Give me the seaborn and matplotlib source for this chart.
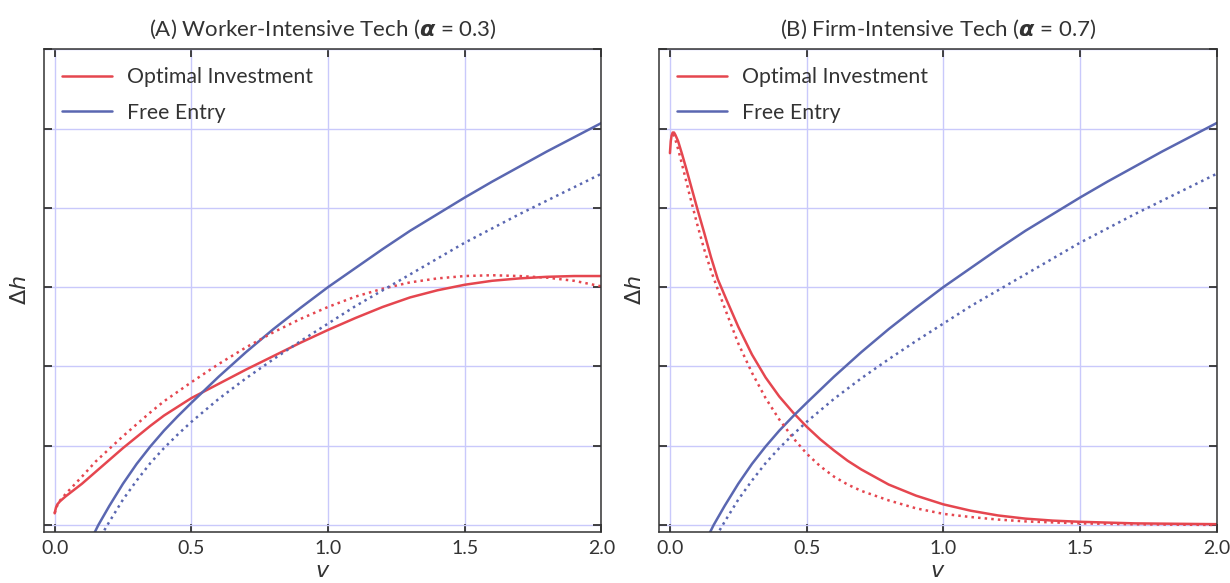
import numpy as np
import pandas as pd
import matplotlib
matplotlib.use("Agg")
import matplotlib.pyplot as plt
import seaborn as sns

# ---------------- data ----------------
# Free entry (same curves in both panels)
fe_solid_v = [0.13, 0.147, 0.16, 0.18, 0.2, 0.25, 0.3, 0.35, 0.4, 0.45, 0.5, 0.6, 0.7,
              0.8, 0.9, 1.0, 1.1, 1.2, 1.3, 1.4, 1.5, 1.6, 1.7, 1.8, 1.9, 2.0]
fe_solid_y = [-0.21, -0.09, 0.0, 0.12, 0.24, 0.52, 0.77, 0.99, 1.19, 1.37, 1.54, 1.87, 2.18,
              2.47, 2.74, 3.0, 3.24, 3.48, 3.71, 3.92, 4.13, 4.33, 4.52, 4.71, 4.89, 5.07]
fe_dot_v = [0.17, 0.183, 0.2, 0.25, 0.3, 0.35, 0.4, 0.45, 0.5, 0.6, 0.7, 0.8, 0.9,
            1.0, 1.1, 1.2, 1.3, 1.4, 1.5, 1.6, 1.7, 1.8, 1.9, 2.0]
fe_dot_y = [-0.14, -0.06, 0.04, 0.32, 0.56, 0.78, 0.97, 1.14, 1.30, 1.59, 1.85, 2.09, 2.32,
            2.54, 2.76, 2.96, 3.16, 3.36, 3.56, 3.74, 3.92, 4.09, 4.26, 4.43]

# Panel A: optimal investment (alpha = 0.3)
a_opt_solid_v = [0.0, 0.005, 0.01, 0.02, 0.04, 0.07, 0.1, 0.15, 0.2, 0.25, 0.3, 0.35, 0.4,
                 0.45, 0.5, 0.6, 0.7, 0.8, 0.9, 1.0, 1.1, 1.2, 1.3, 1.4, 1.5, 1.6, 1.7,
                 1.8, 1.9, 2.0]
a_opt_solid_y = [0.147, 0.22, 0.26, 0.30, 0.36, 0.44, 0.52, 0.67, 0.82, 0.97, 1.11, 1.25, 1.38,
                 1.49, 1.60, 1.78, 1.96, 2.13, 2.30, 2.46, 2.61, 2.75, 2.87, 2.96, 3.03, 3.08, 3.11,
                 3.13, 3.14, 3.14]
a_opt_dot_v = [0.0, 0.01, 0.02, 0.04, 0.07, 0.1, 0.15, 0.2, 0.25, 0.3, 0.35, 0.4, 0.45, 0.5,
               0.6, 0.7, 0.8, 0.9, 1.0, 1.1, 1.2, 1.3, 1.4, 1.5, 1.6, 1.7, 1.8, 1.9, 2.0]
a_opt_dot_y = [0.147, 0.25, 0.31, 0.39, 0.50, 0.61, 0.80, 0.96, 1.12, 1.27, 1.42, 1.56, 1.68, 1.80,
               2.03, 2.24, 2.43, 2.60, 2.75, 2.88, 2.98, 3.06, 3.11, 3.14, 3.15, 3.14, 3.12, 3.08, 3.01]

# Panel B: optimal investment (alpha = 0.7)
b_opt_solid_v = [0.0, 0.003, 0.006, 0.01, 0.015, 0.02, 0.03, 0.045, 0.06, 0.08, 0.1, 0.125,
                 0.15, 0.175, 0.207, 0.25, 0.3, 0.35, 0.4, 0.45, 0.5, 0.55, 0.6, 0.65, 0.7,
                 0.8, 0.9, 1.0, 1.1, 1.2, 1.3, 1.4, 1.5, 1.7, 2.0]
b_opt_solid_y = [4.69, 4.84, 4.91, 4.95, 4.95, 4.92, 4.84, 4.67, 4.49, 4.24, 3.99, 3.69,
                 3.38, 3.10, 2.84, 2.50, 2.15, 1.86, 1.62, 1.42, 1.24, 1.08, 0.94, 0.81, 0.70,
                 0.51, 0.37, 0.26, 0.18, 0.12, 0.08, 0.055, 0.04, 0.02, 0.01]
b_opt_dot_v = [0.012, 0.02, 0.03, 0.05, 0.07, 0.1, 0.125, 0.15, 0.175, 0.2, 0.25, 0.3, 0.35,
               0.4, 0.45, 0.5, 0.55, 0.6, 0.65, 0.7, 0.8, 0.9, 1.0, 1.1, 1.2, 1.3, 1.5, 1.7, 2.0]
b_opt_dot_y = [4.93, 4.86, 4.74, 4.47, 4.19, 3.79, 3.48, 3.21, 2.97, 2.74, 2.29, 1.92, 1.60,
               1.33, 1.10, 0.90, 0.74, 0.61, 0.51, 0.43, 0.31, 0.21, 0.14, 0.10, 0.068, 0.045,
               0.02, 0.008, 0.0]

x_ticks = [0.0, 0.5, 1.0, 1.5, 2.0]
x_tick_labels = ["0.0", "0.5", "1.0", "1.5", "2.0"]
y_ticks = [0, 1, 2, 3, 4, 5, 6]
titles = ["(A) Worker-Intensive Tech ($\\mathbf{\\alpha}$ = 0.3)",
          "(B) Firm-Intensive Tech ($\\mathbf{\\alpha}$ = 0.7)"]
legend_labels = ["Optimal Investment", "Free Entry"]

RED = "#e5464f"
BLUE = "#5a67b1"
GRID = "#c9c9fb"
SPINE = "#333333"
TEXT = "#333333"

# ---------------- style ----------------
sns.set_theme(style="ticks")
FONT = "Lato"
plt.rcParams["font.family"] = [FONT, "DejaVu Sans"]
plt.rcParams["mathtext.fontset"] = "custom"
plt.rcParams["mathtext.rm"] = "DejaVu Sans"
plt.rcParams["mathtext.it"] = "DejaVu Sans:italic"
plt.rcParams["mathtext.bf"] = "DejaVu Sans:bold:italic"

fig = plt.figure(figsize=(12.3, 5.83), dpi=100)
ax_a = fig.add_axes([43.7 / 1230, 1 - 531.7 / 583, 557.7 / 1230, (531.7 - 49.3) / 583])
ax_b = fig.add_axes([659.0 / 1230, 1 - 531.7 / 583, 557.7 / 1230, (531.7 - 49.3) / 583])

panels = [
    (ax_a, a_opt_solid_v, a_opt_solid_y, a_opt_dot_v, a_opt_dot_y),
    (ax_b, b_opt_solid_v, b_opt_solid_y, b_opt_dot_v, b_opt_dot_y),
]

LW = 1.8
for i, (ax, osv, osy, odv, ody) in enumerate(panels):
    ax.set_axisbelow(True)
    ax.grid(True, color=GRID, linewidth=1.0)
    sns.lineplot(x=osv, y=osy, ax=ax, color=RED, linewidth=LW, sort=False,
                 estimator=None, label=legend_labels[0])
    sns.lineplot(x=fe_solid_v, y=fe_solid_y, ax=ax, color=BLUE, linewidth=LW,
                 sort=False, estimator=None, label=legend_labels[1])
    sns.lineplot(x=odv, y=ody, ax=ax, color=RED, linewidth=LW, linestyle=":",
                 sort=False, estimator=None)
    sns.lineplot(x=fe_dot_v, y=fe_dot_y, ax=ax, color=BLUE, linewidth=LW,
                 linestyle=":", sort=False, estimator=None)

    ax.set_xlim(-0.04, 2.0)
    ax.set_ylim(-0.085, 6.0)
    ax.set_xticks(x_ticks)
    ax.set_xticklabels(x_tick_labels)
    ax.set_yticks(y_ticks)
    ax.set_yticklabels([])
    ax.tick_params(direction="in", top=True, right=True, length=6, width=1.3,
                   color=SPINE, labelsize=14, labelcolor=TEXT, pad=6)
    for s in ax.spines.values():
        s.set_color(SPINE)
        s.set_linewidth(1.1)
    ax.set_title(titles[i], fontsize=16, color=TEXT, pad=10)
    ax.set_xlabel("$v$", fontsize=16, color=TEXT, labelpad=3)
    ax.set_ylabel("$\\Delta h$", fontsize=16, color=TEXT, labelpad=4)
    leg = ax.legend(loc="upper left", frameon=False, fontsize=15.3,
                    handlelength=2.35, handletextpad=0.7, labelspacing=0.72,
                    borderaxespad=0.45)
    for t in leg.get_texts():
        t.set_color(TEXT)

fig.savefig("out.png", dpi=100)
